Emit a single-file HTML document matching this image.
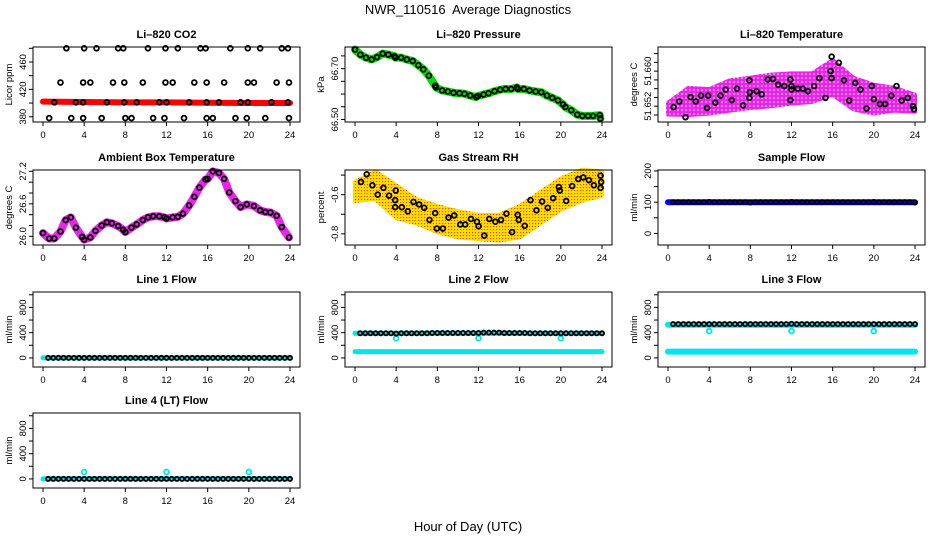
<!DOCTYPE html>
<html><head><meta charset="utf-8"><title>NWR_110516 Average Diagnostics</title>
<style>
html,body{margin:0;padding:0;background:#fff;}
svg{display:block;font-family:"Liberation Sans",Arial,sans-serif;}
</style></head>
<body>
<svg id="chart" width="936" height="540" viewBox="0 0 936 540" xmlns="http://www.w3.org/2000/svg">
<defs>
<pattern id="magPat" width="4" height="4" patternUnits="userSpaceOnUse">
<rect width="4" height="4" fill="#ee22ee"/><circle cx="2" cy="2" r="0.8" fill="#ffffff"/>
</pattern>
<pattern id="orgPat" width="3" height="3" patternUnits="userSpaceOnUse">
<rect width="3" height="3" fill="#ffdd00"/><rect x="1" y="1" width="1.1" height="1.1" fill="#ff3a00"/>
</pattern>
</defs>
<text x="468" y="14" text-anchor="middle" font-size="13" style="white-space:pre">NWR_110516  Average Diagnostics</text>
<text x="468" y="531" text-anchor="middle" font-size="13">Hour of Day (UTC)</text>
</svg>
<script>
// ---------- data ----------
const xTicks = [0,4,8,12,16,20,24];
const xTickLabels = ["0","4","8","12","16","20","24"];

// CO2
const co2RedHours = [0,4,8,12,16,20,24];
const co2RedVals = [402,401.5,401,401,400.5,400,400];
const co2TopHours = [2.27,4.0,5.2,7.3,7.8,10.2,11.9,13.1,15.3,15.8,18.2,19.9,21.1,23.2,23.8];
const co2TopVals = [480,480,480,480,480,480,480,480,480,480,480,480,480,480,480];
const co2MidHours = [1.7,3.9,4.6,6.8,7.9,9.7,11.9,12.6,14.7,15.9,17.6,19.9,20.5,22.7,23.9];
const co2MidVals = [430,430,430,430,430,430,430,430,430,430,430,430,430,430,430];
const co2LowHours = [1.1,3.2,3.9,6.2,7.9,9.1,11.3,12.0,14.2,15.9,17.1,19.2,19.9,22.2,23.8];
const co2LowVals = [401,401,401,401,401,401,401,401,401,401,401,401,401,401,401];
const co2BotHours = [0.6,2.75,3.9,5.7,8.0,8.6,10.7,11.8,13.7,15.9,16.5,18.7,19.8,21.6,23.9];
const co2BotVals = [378,378,378,378,378,378,378,378,378,378,378,378,378,378,378];

// Pressure
const presHours = [0,0.52,1.07,1.62,2.14,2.69,3.24,3.83,3.93,4.48,5.03,5.61,6.16,6.65,7.17,7.79,7.88,8.47,9.02,9.57,10.15,10.64,11.19,11.77,11.94,12.49,12.97,13.56,14.11,14.63,15.18,15.73,15.83,16.41,16.96,17.55,18.10,18.65,19.17,19.72,20.21,20.44,21.02,21.60,22.09,22.64,23.13,23.78,23.84];
const presVals = [66.775,66.755,66.743,66.736,66.745,66.759,66.755,66.749,66.743,66.743,66.736,66.730,66.713,66.697,66.672,66.633,66.626,66.614,66.610,66.605,66.603,66.601,66.594,66.588,66.592,66.598,66.603,66.611,66.617,66.620,66.620,66.626,66.620,66.620,66.614,66.610,66.607,66.594,66.585,66.575,66.559,66.549,66.536,66.519,66.514,66.514,66.514,66.517,66.504];

// Li-820 temperature
const tempCloudHours = [0,2,4,6,8,10,12,14,16,18,20,22,24];
const tempCloudLow = [51.6501,51.6500,51.6503,51.6510,51.6516,51.6520,51.6526,51.6530,51.6546,51.6513,51.6503,51.6510,51.6507];
const tempCloudHigh = [51.6528,51.6562,51.6559,51.6579,51.6585,51.6592,51.6595,51.6595,51.6625,51.6585,51.6569,51.6562,51.6546];
const tempHours = [0.55,1.1,1.7,2.2,2.7,3.2,3.9,3.8,4.6,5.1,5.6,6.2,6.7,7.3,7.9,7.9,7.95,8.6,9.1,9.7,10.2,10.7,11.3,11.9,11.9,12.0,12.0,12.6,13.1,13.6,14.2,14.7,15.3,15.9,15.8,15.9,16.6,17.1,17.6,18.2,18.7,19.3,19.8,20.0,20.6,21.1,21.7,22.2,22.7,23.3,23.8,23.9];
const tempVals = [51.6518,51.6531,51.6495,51.6541,51.6531,51.6544,51.6544,51.6516,51.6528,51.6544,51.6558,51.6534,51.6560,51.6522,51.6579,51.6539,51.6552,51.6554,51.6547,51.6581,51.6582,51.6569,51.6566,51.6581,51.6534,51.6566,51.6558,51.6560,51.6560,51.6554,51.6566,51.6584,51.6539,51.6633,51.6600,51.6584,51.6619,51.6579,51.6533,51.6573,51.6558,51.6515,51.6566,51.6536,51.6525,51.6525,51.6544,51.6566,51.6533,51.6539,51.6520,51.6513];

// Ambient box temperature
const boxHours = [0,0.6,1.1,1.7,2.2,2.7,3.2,3.8,4.0,4.6,5.1,5.7,6.2,6.7,7.3,7.8,8.0,8.6,9.1,9.7,10.2,10.7,11.3,11.8,12.0,12.6,13.1,13.6,14.2,14.7,15.2,15.8,16.0,16.5,17.1,17.6,18.1,18.7,19.2,19.8,20.5,21.1,21.6,22.1,22.7,23.2,23.9];
const boxVals = [26.06,25.96,25.96,26.09,26.30,26.35,26.16,25.99,25.94,25.98,26.10,26.20,26.26,26.24,26.19,26.12,26.08,26.16,26.22,26.30,26.35,26.37,26.37,26.35,26.33,26.35,26.36,26.42,26.57,26.73,26.90,27.05,27.06,27.20,27.17,27.06,26.81,26.65,26.54,26.59,26.56,26.48,26.45,26.44,26.38,26.17,25.98];

// Gas stream RH
const rhCloudHours = [0,2,4,6,8,10,12,14,16,18,20,22,24];
const rhCloudLow = [-0.632,-0.623,-0.720,-0.747,-0.791,-0.818,-0.827,-0.835,-0.818,-0.747,-0.676,-0.632,-0.605];
const rhCloudHigh = [-0.535,-0.481,-0.552,-0.623,-0.658,-0.685,-0.703,-0.703,-0.658,-0.588,-0.517,-0.473,-0.481];
const rhHours = [0.58,1.14,1.69,2.21,2.76,3.31,3.90,3.96,3.9,4.55,5.13,5.68,6.23,6.72,7.24,7.79,7.95,8.54,9.09,9.64,10.23,10.71,11.27,11.85,12.01,12.56,13.05,13.64,14.19,14.71,15.26,15.81,15.91,16.49,17.05,17.63,18.18,18.73,19.25,19.81,19.90,20.52,21.10,21.69,22.18,22.73,23.21,23.86,23.92,23.86];
const rhVals = [-0.535,-0.496,-0.552,-0.600,-0.565,-0.605,-0.628,-0.579,-0.664,-0.664,-0.685,-0.637,-0.650,-0.667,-0.729,-0.694,-0.773,-0.773,-0.717,-0.706,-0.752,-0.752,-0.724,-0.738,-0.761,-0.809,-0.724,-0.738,-0.729,-0.697,-0.791,-0.703,-0.729,-0.759,-0.628,-0.680,-0.635,-0.667,-0.618,-0.561,-0.579,-0.632,-0.556,-0.520,-0.512,-0.526,-0.552,-0.503,-0.535,-0.565];

// flows (half-hourly averages)
const flowHours = [0.5,1,1.5,2,2.5,3,3.5,4,4.5,5,5.5,6,6.5,7,7.5,8,8.5,9,9.5,10,10.5,11,11.5,12,12.5,13,13.5,14,14.5,15,15.5,16,16.5,17,17.5,18,18.5,19,19.5,20,20.5,21,21.5,22,22.5,23,23.5,24];
const sampleFlowVals = [100,100,100,100,100,100,100,101,100,100,100,100,100,100,100,99,100,100,100,100,100,100,100,101,100,100,100,100,100,100,100,100,100,100,100,100,100,100,100,101,100,100,100,100,100,100,100,99];
const line1Vals = [0,0,0,0,0,0,0,0,0,0,0,0,0,0,0,0,0,0,0,0,0,0,0,0,0,0,0,0,0,0,0,0,0,0,0,0,0,0,0,0,0,0,0,0,0,0,0,0];
const line2Vals = [390,390,390,390,390,390,390,385,390,390,390,390,390,390,395,395,395,395,395,395,395,395,395,395,400,400,400,400,395,395,395,395,395,390,390,390,390,390,390,390,390,390,390,390,390,390,390,390];
const line3Vals = [535,535,535,535,535,535,535,535,535,535,535,535,535,535,535,535,535,535,535,535,535,535,535,540,535,535,535,535,535,535,535,535,535,535,535,535,535,535,535,535,535,535,535,535,535,535,535,535];
const line4Vals = [0,0,0,0,0,0,0,0,0,0,0,0,0,0,0,0,0,0,0,0,0,0,0,0,0,0,0,0,0,0,0,0,0,0,0,0,0,0,0,0,0,0,0,0,0,0,0,0];
const cyanBandHours = [0,4,8,12,16,20,24];
const sampleBlueVals = [100,100,100,100,100,100,100];
const line1CyanVals = [0,0,0,0,0,0,0];
const line2CyanHigh = [390,390,390,390,390,390,390];
const line2CyanLow = [100,100,100,100,100,100,100];
const line3CyanHigh = [525,525,525,525,525,525,525];
const line3CyanLow = [100,100,100,100,100,100,100];
const line4CyanVals = [0,0,0,0,0,0,0];
const dipHours = [4,12,20];
const line2DipVals = [310,310,310];
const line3DipVals = [425,425,425];
const line4SpikeVals = [110,110,110];

// ---------- drawing ----------
const NS = "http://www.w3.org/2000/svg";
const svg = document.getElementById("chart");
const PW = 267, PH = 75;
const colLeft = [33, 345, 658];
const rowTop = [47, 170, 292, 413];

function el(tag, parent) {
  const e = document.createElementNS(NS, tag);
  parent.appendChild(e);
  return e;
}

function makePanel(name, col, row, title, ylab, ymin, ymax, yticks, ylabels) {
  const left = colLeft[col], top = rowTop[row];
  const g = el("g", svg);
  
  
  const xs = v => left + 10 + v / 24 * 247;
  const ys = v => top + PH - (v - ymin) / (ymax - ymin) * PH;
  const clip = el("clipPath", g);
  clip.setAttribute("id", "clip-" + name);
  const cr = el("rect", clip);
  cr.setAttribute("x", left); cr.setAttribute("y", top - 3);
  cr.setAttribute("width", PW); cr.setAttribute("height", PH + 6);
  const plot = el("g", g);
  plot.setAttribute("clip-path", "url(#clip-" + name + ")");
  
  

  const box = el("rect", g);
  box.setAttribute("x", left); box.setAttribute("y", top);
  box.setAttribute("width", PW); box.setAttribute("height", PH);
  box.setAttribute("fill", "none"); box.setAttribute("stroke", "#000");
  
  

  const t = el("text", g);
  t.setAttribute("x", left + PW / 2); t.setAttribute("y", top - 9);
  t.setAttribute("text-anchor", "middle"); t.setAttribute("font-size", "11");
  t.setAttribute("font-weight", "bold");
  t.textContent = title;
  
  

  const xa = el("g", g);
  
  
  const axl = el("line", xa);
  axl.setAttribute("x1", xs(0)); axl.setAttribute("x2", xs(24));
  axl.setAttribute("y1", top + PH); axl.setAttribute("y2", top + PH);
  axl.setAttribute("stroke", "#000");
  xTicks.forEach((v, i) => {
    const l = el("line", xa);
    l.setAttribute("x1", xs(v)); l.setAttribute("x2", xs(v));
    l.setAttribute("y1", top + PH); l.setAttribute("y2", top + PH + 4);
    l.setAttribute("stroke", "#000");
    
    
    const tx = el("text", xa);
    tx.setAttribute("x", xs(v)); tx.setAttribute("y", top + PH + 16);
    tx.setAttribute("text-anchor", "middle"); tx.setAttribute("font-size", "9.5");
    tx.textContent = xTickLabels[i];
    
    
  });

  const ya = el("g", g);
  
  
  const ayl = el("line", ya);
  ayl.setAttribute("x1", left); ayl.setAttribute("x2", left);
  ayl.setAttribute("y1", ys(yticks[0])); ayl.setAttribute("y2", ys(yticks[yticks.length - 1]));
  ayl.setAttribute("stroke", "#000");
  yticks.forEach(v => {
    const l = el("line", ya);
    l.setAttribute("x1", left - 4); l.setAttribute("x2", left);
    l.setAttribute("y1", ys(v)); l.setAttribute("y2", ys(v));
    l.setAttribute("stroke", "#000");
    
    
  });
  ylabels.forEach(lb => {
    const tx = el("text", ya);
    const y = ys(parseFloat(lb));
    tx.setAttribute("transform", "translate(" + (left - 7) + "," + y + ") rotate(-90)");
    tx.setAttribute("text-anchor", "middle"); tx.setAttribute("font-size", "9.5");
    tx.textContent = lb;
    
    
  });
  const yt = el("text", g);
  yt.setAttribute("transform", "translate(" + (left - 21) + "," + (top + PH / 2) + ") rotate(-90)");
  yt.setAttribute("text-anchor", "middle"); yt.setAttribute("font-size", "9.5");
  yt.textContent = ylab;
  
  
  return { plot, xs, ys };
}

function drawLine(p, hours, vals, color, width, name) {
  const pl = el("polyline", p.plot);
  pl.setAttribute("points", hours.map((h, i) => p.xs(h) + "," + p.ys(vals[i])).join(" "));
  pl.setAttribute("fill", "none"); pl.setAttribute("stroke", color);
  pl.setAttribute("stroke-width", width);
  pl.setAttribute("stroke-linejoin", "round"); pl.setAttribute("stroke-linecap", "round");
  
  
}
function drawBand(p, hours, low, high, fill, name) {
  const pts = hours.map((h, i) => p.xs(h) + "," + p.ys(high[i]))
    .concat(hours.slice().reverse().map((h, j) => p.xs(h) + "," + p.ys(low[hours.length - 1 - j])));
  const pg = el("polygon", p.plot);
  pg.setAttribute("points", pts.join(" "));
  pg.setAttribute("fill", fill);
  pg.setAttribute("stroke", fill); pg.setAttribute("stroke-width", "4");
  pg.setAttribute("stroke-linejoin", "round");
  
  
}
function drawPoints(p, hours, vals, color, name, r) {
  const g = el("g", p.plot);
  
  
  hours.forEach((h, i) => {
    const c = el("circle", g);
    c.setAttribute("cx", p.xs(h)); c.setAttribute("cy", p.ys(vals[i]));
    c.setAttribute("r", r || 2.4); c.setAttribute("fill", "none");
    c.setAttribute("stroke", color); c.setAttribute("stroke-width", "1.8");
    
    
  });
}

// Panel 1: CO2
const p1 = makePanel("co2", 0, 0, "Li\u2013820 CO2", "Licor ppm", 372.3, 481.9,
  [380,400,420,440,460,480], ["380","420","460"]);
drawLine(p1, co2RedHours, co2RedVals, "#ff0000", 6, "co2-red-series");
drawPoints(p1, co2TopHours, co2TopVals, "#000", "co2-points-480");
drawPoints(p1, co2MidHours, co2MidVals, "#000", "co2-points-430");
drawPoints(p1, co2LowHours, co2LowVals, "#000", "co2-points-401");
drawPoints(p1, co2BotHours, co2BotVals, "#000", "co2-points-378");

// Panel 2: Pressure
const p2 = makePanel("pressure", 1, 0, "Li\u2013820 Pressure", "kPa", 66.49, 66.785,
  [66.50,66.55,66.60,66.65,66.70,66.75], ["66.50","66.70"]);
drawLine(p2, presHours, presVals, "#00dd00", 8, "pressure-green-series");
drawPoints(p2, presHours, presVals, "#000", "pressure-points");

// Panel 3: Li-820 Temperature
const p3 = makePanel("li820-temp", 2, 0, "Li\u2013820 Temperature", "degrees C", 51.6484, 51.6655,
  [51.650,51.652,51.654,51.656,51.658,51.660,51.662,51.664], ["51.652","51.660"]);
drawBand(p3, tempCloudHours, tempCloudLow, tempCloudHigh, "url(#magPat)", "li820-temp-magenta-cloud");
drawPoints(p3, tempHours, tempVals, "#000", "li820-temp-points");

// Panel 4: Ambient Box Temperature
const p4 = makePanel("box-temp", 0, 1, "Ambient Box Temperature", "degrees C", 25.84, 27.225,
  [26.0,26.2,26.4,26.6,26.8,27.0,27.2], ["26.0","26.6","27.2"]);
drawLine(p4, boxHours, boxVals, "#ee22ee", 8, "box-temp-magenta-series");
drawPoints(p4, boxHours, boxVals, "#000", "box-temp-points");

// Panel 5: Gas Stream RH
const p5 = makePanel("rh", 1, 1, "Gas Stream RH", "percent", -0.857, -0.474,
  [-0.8,-0.7,-0.6,-0.5], ["-0.8","-0.6"]);
drawBand(p5, rhCloudHours, rhCloudLow, rhCloudHigh, "url(#orgPat)", "rh-orange-cloud");
drawPoints(p5, rhHours, rhVals, "#000", "rh-points");

// Panel 6: Sample Flow
const p6 = makePanel("sample-flow", 2, 1, "Sample Flow", "ml/min", -37, 203,
  [0,50,100,150,200], ["0","100","200"]);
drawLine(p6, cyanBandHours, sampleBlueVals, "#0000ff", 6, "sample-flow-blue-series");
drawPoints(p6, flowHours, sampleFlowVals, "#000", "sample-flow-points", 2.1);

const flowTicks = [0,200,400,600,800,1000];
const flowLabels = ["0","400","800"];
// Panel 7: Line 1
const p7 = makePanel("line1-flow", 0, 2, "Line 1 Flow", "ml/min", -144, 1044, flowTicks, flowLabels);
drawLine(p7, cyanBandHours, line1CyanVals, "#00e5ee", 5, "line1-cyan-series");
drawPoints(p7, flowHours, line1Vals, "#000", "line1-points", 2.1);
// Panel 8: Line 2
const p8 = makePanel("line2-flow", 1, 2, "Line 2 Flow", "ml/min", -144, 1044, flowTicks, flowLabels);
drawLine(p8, cyanBandHours, line2CyanHigh, "#00e5ee", 5, "line2-cyan-high-series");
drawLine(p8, cyanBandHours, line2CyanLow, "#00e5ee", 5, "line2-cyan-low-series");
drawPoints(p8, dipHours, line2DipVals, "#00e5ee", "line2-cyan-dips");
drawPoints(p8, flowHours, line2Vals, "#000", "line2-points", 2.1);
// Panel 9: Line 3
const p9 = makePanel("line3-flow", 2, 2, "Line 3 Flow", "ml/min", -144, 1044, flowTicks, flowLabels);
drawLine(p9, cyanBandHours, line3CyanHigh, "#00e5ee", 6, "line3-cyan-high-series");
drawLine(p9, cyanBandHours, line3CyanLow, "#00e5ee", 6, "line3-cyan-low-series");
drawPoints(p9, dipHours, line3DipVals, "#00e5ee", "line3-cyan-dips");
drawPoints(p9, flowHours, line3Vals, "#000", "line3-points", 2.1);
// Panel 10: Line 4
const p10 = makePanel("line4-flow", 0, 3, "Line 4 (LT) Flow", "ml/min", -144, 1044, flowTicks, flowLabels);
drawLine(p10, cyanBandHours, line4CyanVals, "#00e5ee", 5, "line4-cyan-series");
drawPoints(p10, dipHours, line4SpikeVals, "#00e5ee", "line4-cyan-spikes");
drawPoints(p10, flowHours, line4Vals, "#000", "line4-points", 2.1);
</script>
</body></html>
